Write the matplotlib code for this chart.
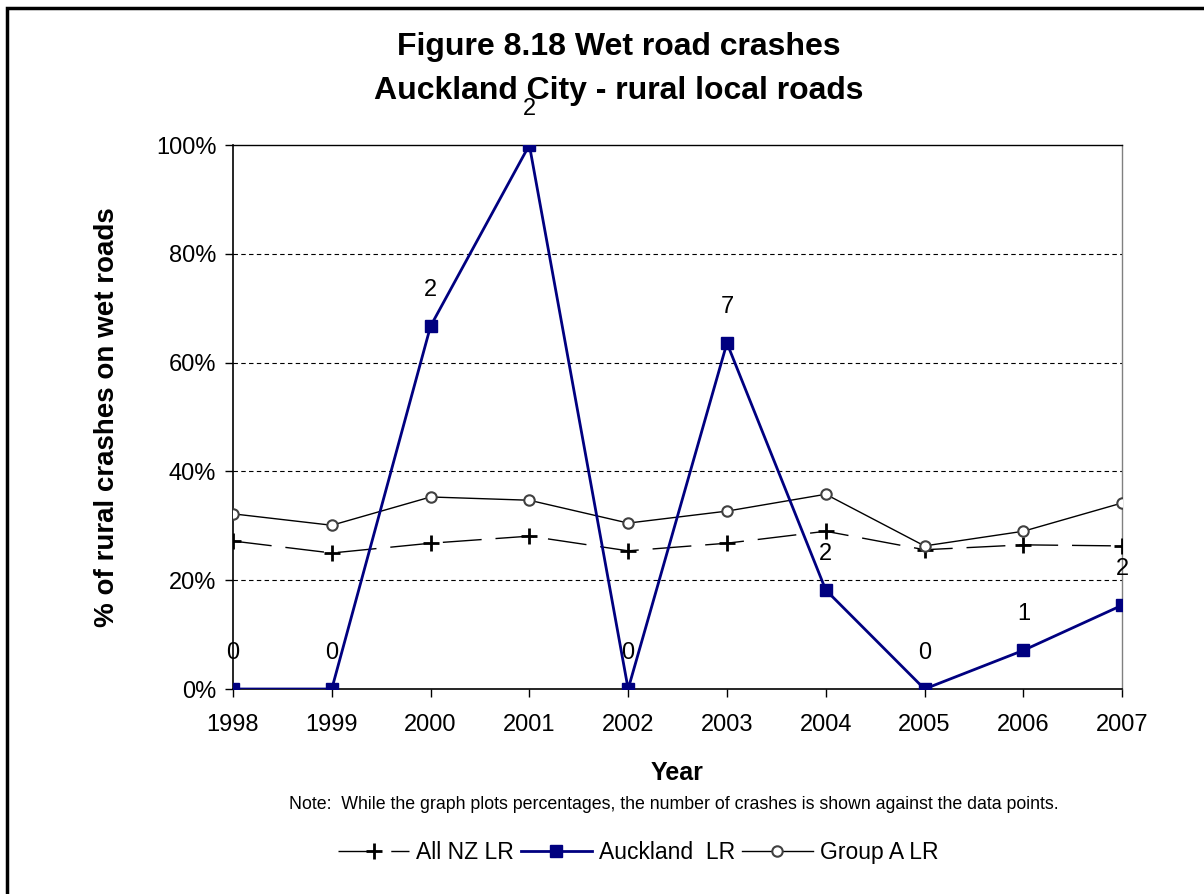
import matplotlib.pyplot as plt
from matplotlib.patches import Rectangle

plt.rcParams['font.family'] = ['Liberation Sans', 'DejaVu Sans']

years = [1998, 1999, 2000, 2001, 2002, 2003, 2004, 2005, 2006, 2007]
all_nz = [27.2, 25.0, 26.8, 28.1, 25.4, 26.8, 29.0, 25.6, 26.5, 26.3]
auckland = [0, 0, 66.7, 100, 0, 63.6, 18.2, 0, 7.1, 15.4]
auckland_counts = [0, 0, 2, 2, 0, 7, 2, 0, 1, 2]
group_a = [32.2, 30.1, 35.3, 34.7, 30.5, 32.7, 35.8, 26.3, 29.0, 34.2]


def main():
    fig = plt.figure(figsize=(12.04, 8.94), dpi=100)
    ax = fig.add_axes([0.1935, 0.2293, 0.7385, 0.6085])
    x = list(range(len(years)))

    ax.plot(x, all_nz, color='black', lw=1, dashes=(28, 10), marker='+',
            ms=11, mew=2, label='All NZ LR', zorder=3)
    ax.plot(x, auckland, color='#000080', lw=2, marker='s', ms=8.5,
            mfc='#000080', mec='#000080', label='Auckland  LR', zorder=4)
    ax.plot(x, group_a, color='black', lw=1, marker='o', ms=7.5, mfc='white',
            mec='#404040', mew=1.5, label='Group A LR', zorder=3)

    # crash counts above the Auckland points
    for xi, yi, n in zip(x, auckland, auckland_counts):
        ax.annotate(str(n), (xi, yi), xytext=(0, 26), textcoords='offset points',
                    ha='center', va='center', fontsize=17, clip_on=False)

    ax.set_xlim(0, len(years) - 1)
    ax.set_ylim(0, 100)
    ax.set_xticks(x)
    ax.set_xticklabels([str(y) for y in years], fontsize=17)
    ax.set_yticks(range(0, 101, 20))
    ax.set_yticklabels([f'{v}%' for v in range(0, 101, 20)], fontsize=17)
    ax.tick_params(axis='both', direction='out', length=6, width=1)
    ax.tick_params(axis='x', pad=12)
    ax.tick_params(axis='y', pad=6)

    for v in range(20, 100, 20):
        ax.axhline(v, color='black', lw=0.8, ls=(0, (4, 3)), zorder=1)

    ax.spines['top'].set_color('black')
    ax.spines['top'].set_linewidth(1)
    ax.spines['right'].set_color('#808080')
    ax.spines['right'].set_linewidth(1)
    ax.spines['left'].set_linewidth(1.2)
    ax.spines['bottom'].set_linewidth(1.2)

    ax.set_xlabel('Year', fontsize=18, fontweight='bold', labelpad=18)
    ax.set_ylabel('% of rural crashes on wet roads', fontsize=20,
                  fontweight='bold', labelpad=26)

    fig.text(0.514, 0.9475, 'Figure 8.18 Wet road crashes', ha='center',
             va='center', fontsize=23, fontweight='bold')
    fig.text(0.514, 0.8985, 'Auckland City - rural local roads', ha='center',
             va='center', fontsize=23, fontweight='bold')
    fig.text(0.56, 0.0996, 'Note:  While the graph plots percentages, the number of '
             'crashes is shown against the data points.', ha='center',
             va='center', fontsize=12.8)

    fig.legend(loc='center', bbox_to_anchor=(0.53, 0.046), ncol=3,
               frameon=False, fontsize=16.5, handlelength=3.1,
               columnspacing=0.3, handletextpad=0.3)

    fig.patches.append(Rectangle((0.006, -0.01), 1.1, 1.001, transform=fig.transFigure,
                                 fill=False, edgecolor='black', lw=2.5))

    fig.savefig('out.png', dpi=100)


if __name__ == "__main__":
    main()
